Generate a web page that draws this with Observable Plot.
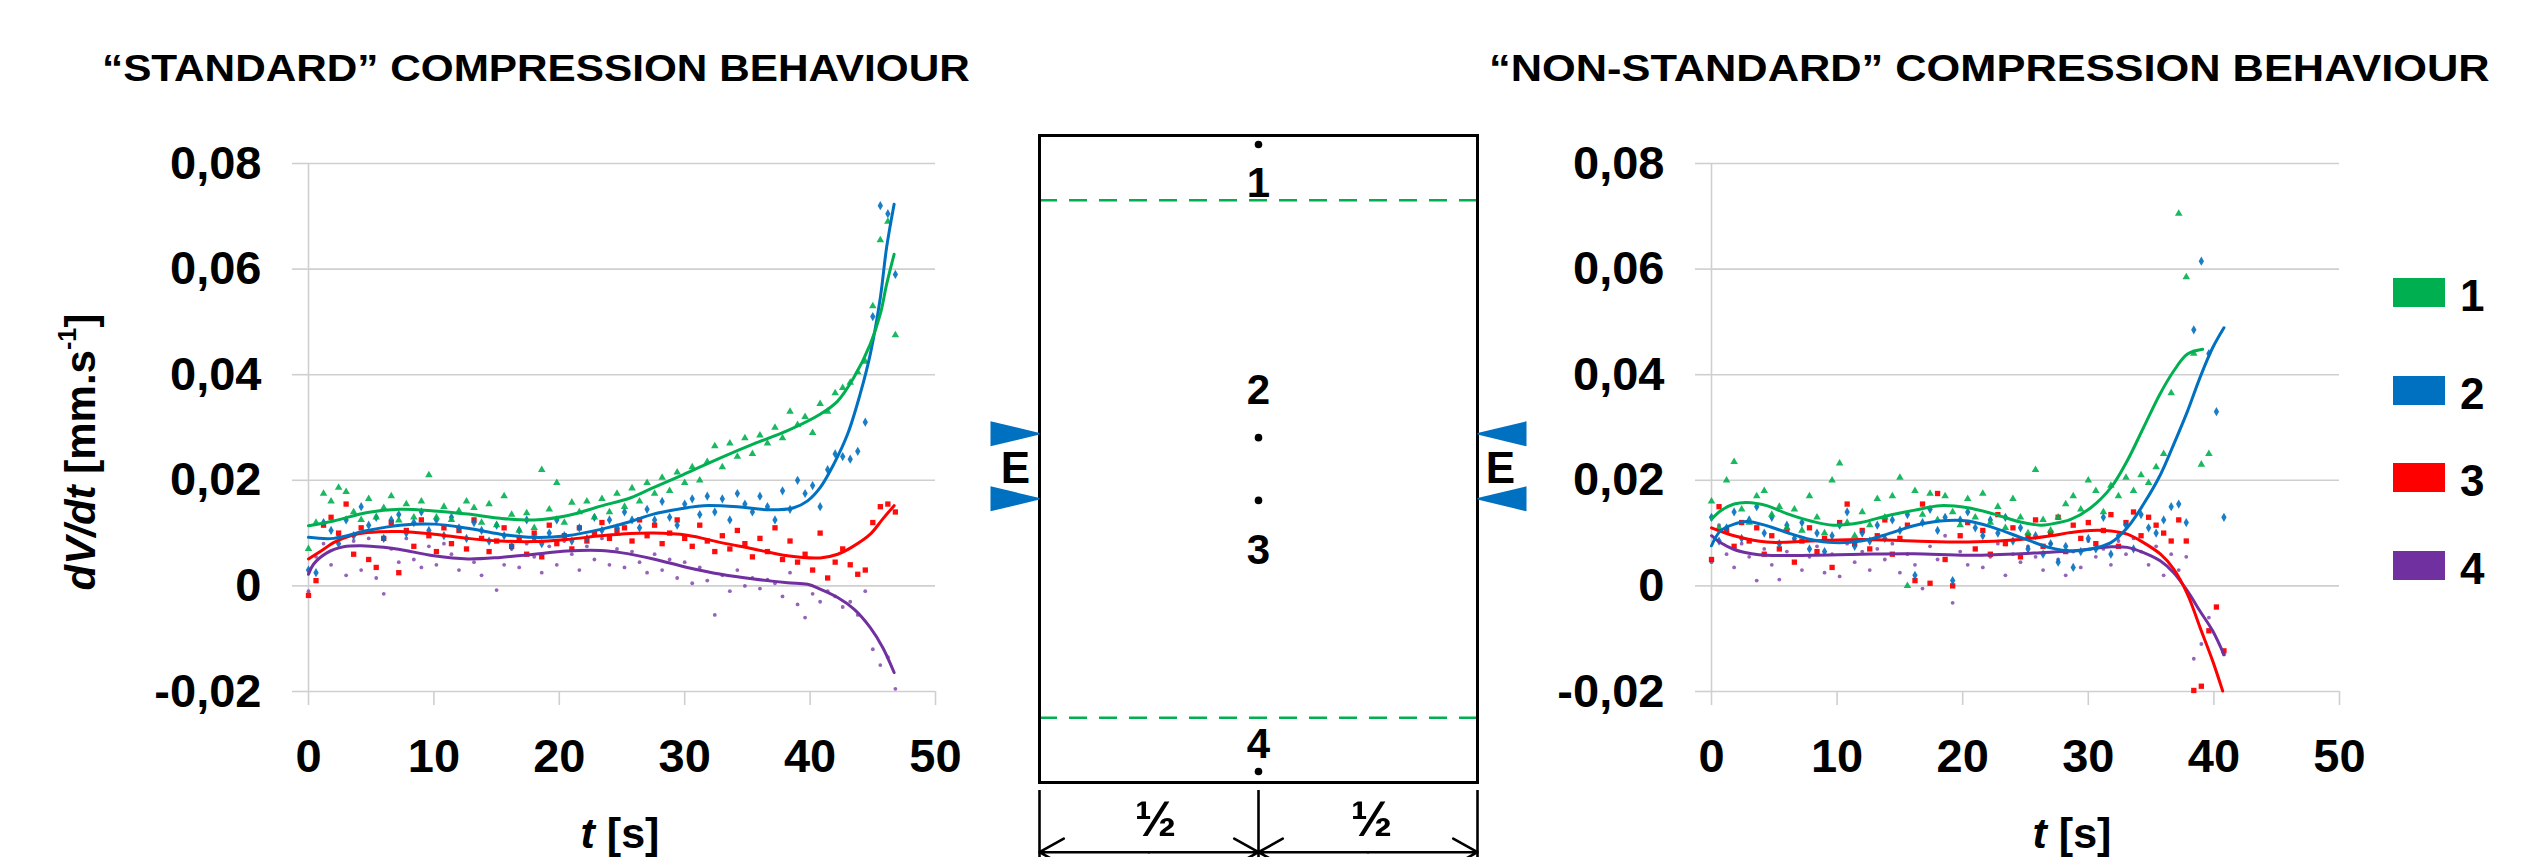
<!DOCTYPE html>
<html><head><meta charset="utf-8">
<script src="https://cdn.jsdelivr.net/npm/d3@7"></script>
<script src="https://cdn.jsdelivr.net/npm/@observablehq/plot@0.6"></script>
<style>
html,body{margin:0;padding:0;background:#fff;}
#page{position:relative;width:2547px;height:857px;overflow:hidden;font-family:"Liberation Sans",Arial,sans-serif;font-weight:bold;color:#000;background:#fff;}
#page div{position:absolute;white-space:nowrap;}
sup{font-size:0.6em;vertical-align:0.75em;line-height:0;}
</style></head>
<body><div id="page"></div>
<script>
// ---------- text ----------
const titleLeft = "“STANDARD” COMPRESSION BEHAVIOUR";
const titleRight = "“NON-STANDARD” COMPRESSION BEHAVIOUR";
const seriesNames = ["1", "2", "3", "4"];
const seriesColors = ["#00B050", "#0070C0", "#FF0000", "#7030A0"];
const xTicks = [0, 10, 20, 30, 40, 50];
const yTicks = [-0.02, 0, 0.02, 0.04, 0.06, 0.08];

// ---------- left chart: measured points ----------
const leftT = [0,0.6,1.2,1.8,2.4,3,3.6,4.2,4.8,5.4,6,6.6,7.2,7.8,8.4,9,9.6,10.2,10.8,11.4,12,12.6,13.2,13.8,14.4,15,15.6,16.2,16.8,17.4,18,18.6,19.2,19.8,20.4,21,21.6,22.2,22.8,23.4,24,24.6,25.2,25.8,26.4,27,27.6,28.2,28.8,29.4,30,30.6,31.2,31.8,32.4,33,33.6,34.2,34.8,35.4,36,36.6,37.2,37.8,38.4,39,39.6,40.2,40.8,41.4,42,42.6,43.2,43.8,44.4,45,45.6,46.2,46.8];
const left1 = [.0070,.0120,.0175,.0160,.0186,.0178,.0140,.0125,.0165,.0130,
 .0148,.0170,.0124,.0155,.0130,.0160,.0210,.0130,.0150,.0125,
 .0142,.0160,.0148,.0120,.0155,.0115,.0170,.0135,.0105,.0138,
 .0110,.0220,.0145,.0195,.0120,.0158,.0140,.0160,.0130,.0165,
 .0140,.0175,.0150,.0185,.0160,.0195,.0175,.0205,.0180,.0215,
 .0195,.0225,.0200,.0235,.0265,.0225,.0270,.0245,.0280,.0250,
 .0285,.0270,.0300,.0280,.0330,.0305,.0320,.0290,.0345,.0330,
 .0365,.0375,.0385,.0405,.0425,.0530,.0655,.0690,.0475];
const left2 = [.0030,.0025,.0120,.0105,.0080,.0125,.0095,.0150,.0115,.0130,
 .0090,.0125,.0135,.0100,.0120,.0140,.0105,.0125,.0095,.0130,
 .0110,.0090,.0120,.0105,.0085,.0115,.0095,.0075,.0105,.0125,
 .0090,.0080,.0100,.0125,.0095,.0085,.0110,.0090,.0130,.0105,
 .0125,.0110,.0140,.0125,.0110,.0145,.0125,.0160,.0130,.0115,
 .0155,.0165,.0135,.0170,.0140,.0165,.0125,.0175,.0155,.0140,
 .0170,.0150,.0125,.0180,.0145,.0200,.0175,.0190,.0150,.0220,
 .0250,.0245,.0240,.0255,.0310,.0510,.0720,.0705,.0590];
const left3 = [-.0018,.0010,.0115,.0130,.0100,.0155,.0060,.0110,.0050,.0035,
 .0090,.0120,.0025,.0105,.0075,.0125,.0095,.0065,.0110,.0080,
 .0105,.0070,.0125,.0090,.0065,.0085,.0110,.0075,.0090,.0060,
 .0100,.0055,.0115,.0080,.0095,.0070,.0110,.0085,.0100,.0120,
 .0090,.0105,.0110,.0085,.0125,.0095,.0115,.0080,.0100,.0125,
 .0090,.0075,.0115,.0085,.0065,.0095,.0070,.0105,.0080,.0055,
 .0090,.0065,.0110,.0050,.0085,.0045,.0060,.0030,.0100,.0015,
 .0045,.0070,.0040,.0022,.0030,.0120,.0150,.0155,.0140];
const left4 = [-.0010,.0055,.0080,.0040,.0095,.0020,.0085,.0030,.0090,.0015,
 -.0015,.0070,.0045,.0090,.0050,.0035,.0075,.0040,.0080,.0060,
 .0030,.0070,.0045,.0020,.0065,-.0008,.0040,.0070,.0035,.0080,
 .0055,.0025,.0075,.0040,.0085,.0060,.0030,.0075,.0050,.0090,
 .0040,.0070,.0035,.0065,.0045,.0025,.0060,.0030,.0050,.0015,
 .0045,.0005,.0035,.0010,-.0055,.0020,-.0010,.0030,.0000,.0015,
 -.0005,.0012,.0005,-.0020,.0025,-.0035,-.0060,-.0015,-.0030,-.0010,
 -.0020,-.0040,-.0030,-.0055,-.0010,-.0120,-.0150,-.0135,-.0195];

// ---------- left chart: trend lines ----------
const leftTrend1T = [0,2,4.7,7.3,10,12.7,15.3,18,20.6,23.3,25.7,27.5,30,32.9,35.5,38.2,40.8,42.2,43.5,44.8,45.6,46.1,46.7];
const leftTrend1V = [.0114,.0123,.0139,.0145,.0142,.0136,.0128,.0125,.0133,.0151,.0167,.0186,.0212,.0243,.0269,.0294,.0325,.0350,.0395,.0458,.0515,.0571,.0628];
const leftTrend2T = [0,2,4.7,7.3,10,12.7,15.3,18,20.6,23.3,25.7,27.5,30.2,31.5,34.2,36.8,38.7,39.8,40.8,41.9,43,44,44.8,45.6,46.1,46.7];
const leftTrend2V = [.0092,.0090,.0105,.0115,.0117,.0109,.0098,.0092,.0095,.0107,.0122,.0136,.0148,.0152,.0150,.0144,.0148,.0161,.0186,.0231,.0288,.0364,.0439,.0546,.0641,.0723];
const leftTrend3T = [0,1,2,3.35,4.7,7.3,10,12.7,15.3,18,20.6,23.3,24.9,27.5,30.2,32.9,35.5,38.2,40.8,42.2,43.3,44.8,45.8,46.7];
const leftTrend3V = [.0051,.0066,.0082,.0095,.0101,.0103,.0098,.0090,.0085,.0084,.0088,.0095,.0098,.0100,.0096,.0082,.0070,.0057,.0053,.0060,.0073,.0098,.0127,.0152];
const leftTrend4T = [0,0.4,1.5,2.8,4.2,6,7.3,10,12.7,15.3,18,20.6,23.3,24.9,27.5,30.2,32.9,35.5,38.2,39.8,40.8,42.2,43.5,44.8,45.8,46.7];
const leftTrend4V = [.0022,.0041,.0063,.0074,.0076,.0073,.0069,.0057,.0051,.0054,.0060,.0066,.0067,.0063,.0051,.0035,.0022,.0013,.0006,.0003,-.0006,-.0022,-.0044,-.0079,-.0117,-.0164];

// ---------- right chart: measured points ----------
const rightT = [0,0.6,1.2,1.8,2.4,3,3.6,4.2,4.8,5.4,6,6.6,7.2,7.8,8.4,9,9.6,10.2,10.8,11.4,12,12.6,13.2,13.8,14.4,15,15.6,16.2,16.8,17.4,18,18.6,19.2,19.8,20.4,21,21.6,22.2,22.8,23.4,24,24.6,25.2,25.8,26.4,27,27.6,28.2,28.8,29.4,30,30.6,31.2,31.8,32.4,33,33.6,34.2,34.8,35.4,36,36.6,37.2,37.8,38.4,39,39.6,40.2,40.8];
const right1 = [.0160,.0110,.0200,.0235,.0145,.0120,.0170,.0180,.0135,.0150,
 .0110,.0145,.0105,.0170,.0130,.0100,.0200,.0232,.0120,.0095,
 .0140,.0115,.0165,.0130,.0170,.0205,.0000,.0180,.0135,.0175,
 .0125,.0170,.0140,.0115,.0165,.0130,.0175,.0120,.0150,.0110,
 .0165,.0130,.0100,.0220,.0125,.0105,.0130,.0155,.0170,.0145,
 .0200,.0180,.0140,.0190,.0170,.0205,.0180,.0210,.0195,.0225,
 .0250,.0365,.0705,.0585,.0440,.0230,.0250,null,null];
const right2 = [.0130,.0085,.0110,.0140,.0090,.0125,.0150,.0100,.0130,.0080,
 .0115,.0090,.0120,.0070,.0100,.0065,.0095,.0115,.0140,.0075,
 .0100,.0085,.0115,.0090,.0125,.0105,.0135,.0020,.0120,.0145,
 .0105,.0130,.0010,.0125,.0140,.0110,.0095,.0125,.0100,.0130,
 .0085,.0110,.0070,.0095,.0060,.0080,.0045,.0075,.0035,.0065,
 .0090,.0070,.0130,.0060,.0095,.0115,.0070,.0135,.0110,.0100,
 .0125,.0150,.0155,.0120,.0485,.0615,.0440,.0330,.0130];
const right3 = [.0050,.0150,.0105,.0075,.0120,.0085,.0110,.0060,.0095,.0070,
 .0105,.0045,.0085,.0110,.0065,.0090,.0035,.0120,.0155,.0080,
 .0105,.0070,.0095,.0125,.0060,.0090,.0115,.0010,.0155,.0005,
 .0175,.0050,.0000,.0095,.0120,.0070,.0105,.0060,.0135,.0080,
 .0110,.0055,.0095,.0125,.0075,.0100,.0130,.0065,.0115,.0090,
 .0120,.0080,.0105,.0135,.0075,.0120,.0140,.0095,.0130,.0115,
 .0100,.0085,.0125,.0085,-.0198,-.0190,-.0085,-.0040,-.0123];
const right4 = [.0045,.0115,.0060,.0035,.0080,.0055,.0010,.0070,.0040,.0012,
 .0065,.0085,.0030,.0055,.0075,.0025,.0060,.0018,.0080,.0045,
 .0065,.0030,.0070,.0050,.0080,.0025,.0060,.0040,-.0005,.0075,
 .0050,.0095,-.0032,.0065,.0040,.0070,.0035,.0055,.0080,.0020,
 .0060,.0045,.0075,.0055,.0030,.0080,.0050,.0020,.0065,.0035,
 .0085,.0055,.0070,.0040,.0085,.0060,.0090,.0065,.0040,.0075,
 .0020,.0060,.0030,.0055,-.0138,-.0110,-.0060,-.0040,-.0130];

// ---------- right chart: trend lines ----------
const rightTrend1T = [0,0.7,1.8,2.8,4.4,6,7.9,9.7,11.9,14,16.1,18.2,20.4,22.5,24.6,26.2,27,28.6,30.2,31.8,33.1,34.4,35.7,36.8,37.9,39.1];
const rightTrend1V = [.0126,.0142,.0155,.0158,.0152,.0137,.0123,.0115,.0120,.0133,.0143,.0152,.0148,.0136,.0121,.0115,.0117,.0126,.0148,.0186,.0237,.0300,.0363,.0407,.0439,.0448];
const rightTrend2T = [0,0.7,1.8,2.8,4.4,6,7.9,9.7,11.9,14,16.1,18.2,20.4,22.5,24.6,26.2,27,28.6,30.2,31.8,33.1,34.4,35.75,36.8,37.9,38.9,39.9,40.8];
const rightTrend2V = [.0076,.0104,.0117,.0122,.0114,.0101,.0088,.0082,.0085,.0098,.0114,.0123,.0123,.0110,.0092,.0078,.0072,.0066,.0070,.0082,.0110,.0155,.0211,.0268,.0331,.0395,.0451,.0489];
const rightTrend3T = [0,1.8,4.4,7.9,11.9,16.1,20.4,24.6,27,28.6,30.2,31.8,33.1,34.4,35.75,36.8,37.9,38.9,39.9,40.7];
const rightTrend3V = [.0110,.0095,.0083,.0085,.0088,.0085,.0083,.0088,.0095,.0101,.0105,.0104,.0098,.0082,.0060,.0032,-.0016,-.0079,-.0142,-.0199];
const rightTrend4T = [0,0.7,1.8,3.2,4.4,7.9,11.9,16.1,20.4,24.6,26.2,28.6,30.2,31.8,33.1,34.4,35.75,36.8,37.9,38.9,39.9,40.8];
const rightTrend4V = [.0095,.0082,.0069,.0061,.0058,.0058,.0060,.0061,.0058,.0061,.0063,.0066,.0070,.0074,.0073,.0063,.0047,.0025,-.0010,-.0048,-.0085,-.0130];

// ---------- schematic (fractions of specimen width / height) ----------
const zoneBorders = [0.1, 0.9];
const sensorPositions = [0.014, 0.467, 0.564, 0.983];
const sensorLabelPositions = [0.074, 0.394, 0.641, 0.941];
const loadPositions = [0.461, 0.5615];
const loadLabel = "E";
const halfLabel = "½";
const dimensionTicks = [0, 0.5, 1];

// ---------- helpers ----------
const FONT = '"Liberation Sans", Arial, sans-serif';
const GRID = "#cfcfcf";
const page = document.getElementById("page");
function addDiv(html, css) {
  const d = document.createElement("div");
  d.innerHTML = html;
  Object.assign(d.style, css);
  page.appendChild(d);
  return d;
}
function rows(t, v) {
  return t.map((x, i) => ({t: x, v: v[i]})).filter(d => d.v != null);
}
const fmt = d => d === 0 ? "0" : d.toFixed(2).replace(".", ",");
const dotStyles = [
  {symbol: "triangle", r: 2.8, fillOpacity: 0.9},
  {symbol: "diamond", r: 2.8, fillOpacity: 0.9},
  {symbol: "square", r: 3.0, fillOpacity: 0.95},
  {symbol: "circle", r: 1.9, fillOpacity: 0.75}
];

function chart(points, trends, opts) {
  const marks = [
    Plot.gridY(yTicks, {stroke: GRID, strokeOpacity: 1, strokeWidth: 1.6}),
    Plot.ruleX([0], {stroke: GRID, strokeWidth: 1.6}),
    Plot.axisY(yTicks, {tickSize: 16, tickPadding: 31, stroke: GRID, strokeWidth: 1.6, fill: "black",
      tickFormat: fmt, label: null, fontSize: 47, fontWeight: "bold"}),
    Plot.axisX(xTicks, {tickSize: 14, tickPadding: 33, stroke: GRID, strokeWidth: 1.6, fill: "black",
      label: null, fontSize: 47, fontWeight: "bold"})
  ];
  [3, 2, 1, 0].forEach(i => {
    marks.push(Plot.dot(points[i], {x: "t", y: "v", fill: seriesColors[i], stroke: "none", ...dotStyles[i]}));
  });
  [3, 2, 1, 0].forEach(i => {
    marks.push(Plot.line(trends[i], {x: "t", y: "v", stroke: seriesColors[i], strokeWidth: 3, curve: "catmull-rom"}));
  });
  return Plot.plot({
    width: opts.width, height: 857,
    marginLeft: opts.marginLeft, marginRight: opts.marginRight, marginTop: 163, marginBottom: 166,
    x: {domain: [0, 50]},
    y: {domain: [-0.02, 0.08]},
    style: {fontFamily: FONT, fontSize: "47px", fontWeight: "bold", color: "black", background: "transparent"},
    marks
  });
}

// ---------- left chart ----------
const leftPts = [left1, left2, left3, left4].map(v => rows(leftT, v));
const leftTr = [[leftTrend1T, leftTrend1V], [leftTrend2T, leftTrend2V], [leftTrend3T, leftTrend3V], [leftTrend4T, leftTrend4V]].map(([t, v]) => rows(t, v));
const leftBox = addDiv("", {left: "0px", top: "0px", width: "1000px", height: "857px"});
leftBox.appendChild(chart(leftPts, leftTr, {width: 1000, marginLeft: 308, marginRight: 65}));

// ---------- right chart ----------
const rightPts = [right1, right2, right3, right4].map(v => rows(rightT, v));
const rightTr = [[rightTrend1T, rightTrend1V], [rightTrend2T, rightTrend2V], [rightTrend3T, rightTrend3V], [rightTrend4T, rightTrend4V]].map(([t, v]) => rows(t, v));
const rightBox = addDiv("", {left: "1400px", top: "0px", width: "1147px", height: "857px"});
rightBox.appendChild(chart(rightPts, rightTr, {width: 1147, marginLeft: 311, marginRight: 208}));

// ---------- schematic ----------
const wedge = {
  draw(ctx) {
    ctx.moveTo(0, -0.8);
    ctx.lineTo(-49, -12.5);
    ctx.lineTo(-49, 12.5);
    ctx.lineTo(0, 0.8);
    ctx.closePath();
  }
};
const loads = [];
[0, 1].forEach(side => loadPositions.forEach(y => loads.push({x: side, y, rot: side === 1 ? 180 : 0})));
const eLabels = [{x: -0.055, y: 0.5147}, {x: 1.0525, y: 0.5147}];
const arrows = [];
[[0.25, 0], [0.25, 0.5], [0.75, 0.5], [0.75, 1]].forEach(([a, b]) => arrows.push({x1: a, x2: b, y: 1.1077}));
const halves = [{x: 0.265}, {x: 0.758}];

const scheme = Plot.plot({
  width: 620, height: 857,
  marginLeft: 99, marginRight: 83, marginTop: 135, marginBottom: 75,
  x: {domain: [0, 1], axis: null},
  y: {domain: [0, 1], reverse: true, axis: null},
  style: {fontFamily: FONT, fontWeight: "bold", color: "black", background: "transparent"},
  marks: [
    Plot.ruleY(zoneBorders, {stroke: "#00B050", strokeWidth: 2.6, strokeDasharray: "18,12"}),
    Plot.frame({stroke: "black", strokeWidth: 3}),
    Plot.dot(sensorPositions, {x: () => 0.5, y: d => d, r: 3.8, fill: "black", stroke: "none"}),
    Plot.text(sensorLabelPositions, {x: () => 0.5, y: d => d, text: (d, i) => seriesNames[i], fontSize: 42, fontWeight: "bold", fill: "black"}),
    Plot.dot(loads, {x: "x", y: "y", symbol: wedge, r: 10, rotate: "rot", fill: "#0070C0", stroke: "none"}),
    Plot.text(eLabels, {x: "x", y: "y", text: () => loadLabel, fontSize: 44, fontWeight: "bold", fill: "black"}),
    Plot.ruleX(dimensionTicks, {y1: 1.0124, y2: 1.13, stroke: "black", strokeWidth: 2.6}),
    Plot.arrow(arrows, {x1: "x1", x2: "x2", y1: "y", y2: "y", stroke: "black", strokeWidth: 2.6, headLength: 16, headAngle: 58}),
    Plot.text(halves, {x: "x", y: () => 1.0587, text: () => halfLabel, fontSize: 50, fontWeight: "bold", fill: "black"})
  ]
});
const schemeBox = addDiv("", {left: "940px", top: "0px", width: "620px", height: "857px"});
schemeBox.appendChild(scheme);

// ---------- titles & axis labels ----------
addDiv(titleLeft, {left: "102px", top: "50px", fontSize: "37px", lineHeight: "37px", transform: "scaleX(1.143)", transformOrigin: "0 0"});
addDiv(titleRight, {left: "1489px", top: "50px", fontSize: "37px", lineHeight: "37px", transform: "scaleX(1.172)", transformOrigin: "0 0"});
addDiv('<i>dV/dt</i> [mm.s<sup>-1</sup>]', {left: "81px", top: "452px", fontSize: "42px", lineHeight: "42px", transform: "translate(-50%,-50%) rotate(-90deg)"});
addDiv('<i>t</i> [s]', {left: "620px", top: "833px", fontSize: "43px", lineHeight: "34px", transform: "translate(-50%,-50%)"});
addDiv('<i>t</i> [s]', {left: "2072px", top: "833px", fontSize: "43px", lineHeight: "34px", transform: "translate(-50%,-50%)"});

// ---------- legend ----------
const legendTops = [278, 376, 463, 551];
seriesNames.forEach((name, i) => {
  addDiv("", {left: "2393px", top: legendTops[i] + "px", width: "52px", height: "29px", background: seriesColors[i]});
  addDiv(name, {left: "2460px", top: (legendTops[i] + 14.5 + 3 - 21.5) + "px", fontSize: "44px", lineHeight: "44px"});
});
</script></body></html>
